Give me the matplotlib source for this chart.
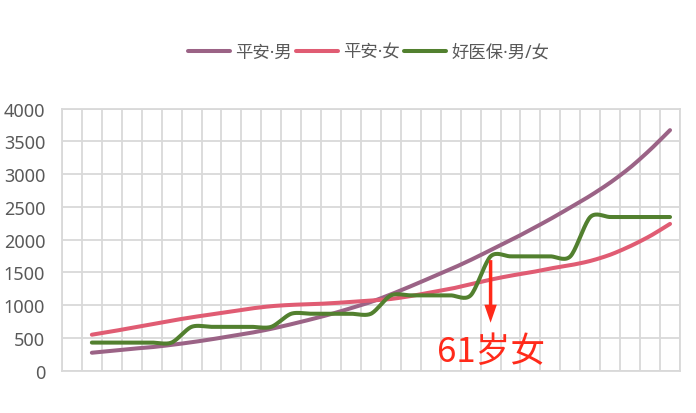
import numpy as np
import matplotlib
matplotlib.use("Agg")
import matplotlib.pyplot as plt

plt.rcParams['font.family'] = ['Noto Sans', 'Noto Sans CJK SC', 'DejaVu Sans']

# ages 41..70 (the axis also has one empty slot for 40)
ages = list(range(41, 71))
pingan_male = [275, 305, 335, 360, 395, 435, 480, 530, 580, 640,
               710, 785, 865, 955, 1050, 1165, 1290, 1420, 1550, 1690,
               1840, 1990, 2150, 2315, 2490, 2670, 2870, 3100, 3370, 3670]
pingan_female = [550, 600, 655, 710, 765, 815, 860, 905, 950, 985,
                 1005, 1015, 1030, 1050, 1070, 1095, 1140, 1195, 1250, 1320,
                 1390, 1450, 1500, 1560, 1610, 1675, 1770, 1900, 2055, 2240]
haoyibao = [430] * 5 + [670] * 5 + [870] * 5 + [1150] * 5 + [1745] * 5 + [2345] * 5

series = [("平安·男", pingan_male, "#9b6386"),
          ("平安·女", pingan_female, "#e05c73"),
          ("好医保·男/女", haoyibao, "#52802f")]


# smoothed line like a spreadsheet "smooth line" (bezier through the points)
def smooth(x, y, n=20, k=1 / 7):
    x = np.asarray(x, float)
    y = np.asarray(y, float)
    xs, ys = [], []
    for i in range(len(x) - 1):
        p0 = np.array([x[max(i - 1, 0)], y[max(i - 1, 0)]])
        p1 = np.array([x[i], y[i]])
        p2 = np.array([x[i + 1], y[i + 1]])
        p3 = np.array([x[min(i + 2, len(x) - 1)], y[min(i + 2, len(x) - 1)]])
        c1 = p1 + (p2 - p0) * k
        c2 = p2 - (p3 - p1) * k
        t = np.linspace(0, 1, n)[:, None]
        b = (1 - t) ** 3 * p1 + 3 * (1 - t) ** 2 * t * c1 + 3 * (1 - t) * t ** 2 * c2 + t ** 3 * p2
        xs.extend(b[:, 0])
        ys.extend(b[:, 1])
    return xs, ys


fig = plt.figure(figsize=(6.96, 4.14), dpi=100)
ax = fig.add_axes([0.089, 0.102, 0.888, 0.6335])

for name, vals, col in series:
    sx, sy = smooth(ages, vals)
    ax.plot(sx, sy, color=col, lw=2.9, solid_capstyle='round', label=name)

ax.set_xlim(39.5, 70.5)
ax.set_ylim(0, 4000)
ax.set_yticks(range(0, 4001, 500))
ax.set_xticks(np.arange(39.5, 70.6, 1))
ax.set_xticklabels([])
ax.tick_params(axis='x', length=0)
ax.tick_params(axis='y', length=0, pad=12, labelsize=13, labelcolor='#595959')
ax.grid(True, color='#d9d9d9', lw=1.3)
ax.set_axisbelow(True)
for s in ax.spines.values():
    s.set_color('#d9d9d9')
    s.set_linewidth(1.3)

ax.annotate("", xy=(61, 690), xytext=(61, 1730),
            arrowprops=dict(arrowstyle='simple,head_width=0.9,head_length=1.3,tail_width=0.25',
                            color='#ff2a1a', lw=0))
ax.text(61, 290, "61岁女", color='#ff2a1a', fontsize=25, ha='center', va='center',
        family=['Noto Sans CJK SC', 'DejaVu Sans'])

fig.legend(loc='center', bbox_to_anchor=(0.53, 0.872), ncol=3, frameon=False,
           fontsize=12.5, handlelength=2.4, handletextpad=0.3, columnspacing=0.25,
           labelcolor='#595959')

fig.savefig("out.png", dpi=100)
